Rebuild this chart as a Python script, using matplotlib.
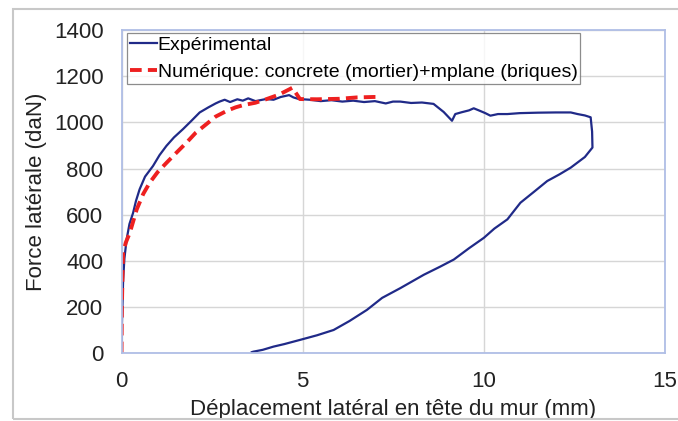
import matplotlib.pyplot as plt
from matplotlib.patches import Rectangle

plt.rcParams['font.family'] = ['Liberation Sans', 'DejaVu Sans']

# Experimental curve (loading, plateau, unloading)
exp_x = [0.0, 0.01, 0.03, 0.045, 0.08, 0.14, 0.22, 0.32, 0.4, 0.5, 0.65, 0.87, 1.05, 1.24,
         1.45, 1.70, 1.92, 2.16, 2.4, 2.6, 2.71, 2.85, 3.0, 3.2, 3.35, 3.5, 3.7, 3.99, 4.2,
         4.4, 4.63, 4.75, 4.9, 5.2, 5.5, 5.8, 6.1, 6.4, 6.7, 7.0, 7.3, 7.5, 7.70, 8.0,
         8.3, 8.62, 8.9, 9.13, 9.22, 9.4, 9.6, 9.73, 9.9, 10.05, 10.19, 10.4, 10.66,
         11.0, 11.5, 12.0, 12.41, 12.6, 12.8, 12.96, 13.0, 13.01, 12.8, 12.41,
         12.1, 11.76, 11.4, 11.02, 10.66, 10.3, 10.01, 9.6, 9.18, 8.8, 8.35, 7.70,
         7.2, 6.78, 6.3, 5.86, 5.4, 4.93, 4.5, 4.20, 3.9, 3.64, 3.6]
exp_y = [0, 120, 230, 318, 410, 492, 560, 608, 660, 710, 765, 811, 858, 898,
         935, 971, 1005, 1043, 1065, 1082, 1090, 1098, 1088, 1100, 1094, 1104, 1092, 1101, 1098,
         1110, 1118, 1108, 1101, 1098, 1092, 1096, 1090, 1094, 1088, 1092, 1082, 1090, 1090, 1084,
         1086, 1080, 1045, 1007, 1036, 1044, 1052, 1061, 1050, 1040, 1029, 1036, 1036,
         1040, 1042, 1043, 1043, 1036, 1030, 1022, 960, 891, 850, 804,
         775, 746, 700, 652, 580, 540, 500, 455, 406, 375, 340, 282,
         240, 188, 140, 101, 78, 58, 40, 29, 15, 7, 5]

# Numerical curve
num_x = [0.0, 0.01, 0.03, 0.045, 0.12, 0.23, 0.42, 0.6, 0.78, 1.0, 1.25, 1.5, 1.80, 2.05,
         2.35, 2.6, 2.91, 3.15, 3.37, 3.7, 4.01, 4.35, 4.66, 4.72, 4.93, 5.4, 6.0, 6.5, 6.96, 7.05]
num_y = [0, 200, 350, 435, 480, 522, 623, 690, 739, 785, 826, 866, 913, 955,
         993, 1025, 1050, 1065, 1075, 1085, 1101, 1120, 1145, 1150, 1101, 1100, 1102, 1108, 1110, 1110]

fig = plt.figure(figsize=(6.78, 4.21), dpi=100)
fig.patches.append(Rectangle((13 / 678, 2 / 421), 1.0, 1 - 11 / 421, transform=fig.transFigure,
                             fill=False, edgecolor='#c8c8c8', linewidth=1.5))
ax = fig.add_axes([121.5 / 678, 1 - 353.3 / 421, 543 / 678, 323.3 / 421])

ax.plot(exp_x, exp_y, color='#202a88', linewidth=1.6, label='Expérimental')
ax.plot(num_x, num_y, color='#ee2020', linewidth=2.8, linestyle=(0, (3, 1.6)),
        label='Numérique: concrete (mortier)+mplane (briques)')

ax.set_xlim(0, 15)
ax.set_ylim(0, 1400)
ax.set_xticks([0, 5, 10, 15])
ax.set_yticks(range(0, 1401, 200))
ax.grid(True, color='#d6d6d6', linewidth=1.0)
ax.set_axisbelow(True)
for s in ax.spines.values():
    s.set_color('#b0bee6')
    s.set_linewidth(1.3)
ax.tick_params(length=0, labelsize=16, colors='#222222', pad=13)
ax.set_xlabel('Déplacement latéral en tête du mur (mm)', fontsize=16, color='#222222', labelpad=5)
ax.set_ylabel('Force latérale (daN)', fontsize=16, color='#222222', labelpad=5)

leg = ax.legend(loc='upper left', bbox_to_anchor=(0.011, 0.99), fontsize=14, frameon=True,
                fancybox=False, handlelength=1.35, handletextpad=0.05, borderpad=0.15,
                labelspacing=0.5, borderaxespad=0)
leg.get_frame().set_edgecolor('#707070')
leg.get_frame().set_linewidth(0.9)

fig.savefig('out.png', dpi=100)
